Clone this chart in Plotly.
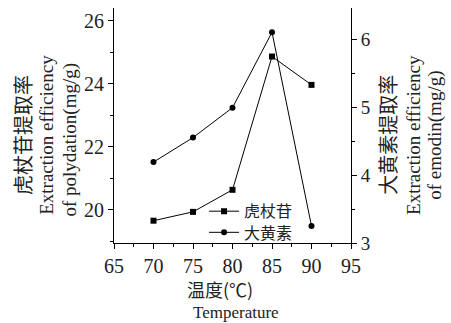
import plotly.graph_objects as go

temperature = [70, 75, 80, 85, 90]
polydatin = [19.66, 19.94, 20.64, 24.87, 23.97]
emodin = [4.19, 4.55, 4.99, 6.10, 3.25]

x_ticks = [65, 70, 75, 80, 85, 90, 95]
y1_ticks = [20, 22, 24, 26]
y2_ticks = [3, 4, 5, 6]

SERIF = "Liberation Serif, Noto Sans CJK SC"
CJK = "Noto Sans CJK SC, Liberation Serif"

fig = go.Figure()
fig.add_trace(go.Scatter(
    x=temperature, y=polydatin, name="虎杖苷", mode="lines+markers",
    line=dict(color="black", width=1),
    marker=dict(symbol="square", size=6, color="black"),
    yaxis="y", legend="legend"))
fig.add_trace(go.Scatter(
    x=temperature, y=emodin, name="大黄素", mode="lines+markers",
    line=dict(color="black", width=1),
    marker=dict(symbol="circle", size=6, color="black"),
    yaxis="y2", legend="legend2"))

axis_common = dict(showgrid=False, zeroline=False, showline=True, linecolor="black",
                   linewidth=1, ticks="outside", ticklen=5, tickcolor="black",
                   tickfont=dict(family=SERIF, size=20, color="#222"))

leg_common = dict(xanchor="left", yanchor="middle", bgcolor="rgba(0,0,0,0)",
                  font=dict(family=CJK, size=16, color="#222"), itemwidth=30,
                  tracegroupgap=0)

fig.update_layout(
    width=451, height=323,
    margin=dict(l=114, r=100, t=8, b=80),
    paper_bgcolor="white", plot_bgcolor="white",
    showlegend=True,
    legend=dict(x=0.38, y=0.135, **leg_common),
    legend2=dict(x=0.38, y=0.045, **leg_common),
    xaxis=dict(range=[65, 95], tickvals=x_ticks, **axis_common,
               minor=dict(ticks="outside", ticklen=3, dtick=2.5, tickcolor="black")),
    yaxis=dict(range=[18.952, 26.41], tickvals=y1_ticks, **axis_common,
               minor=dict(ticks="outside", ticklen=3, dtick=1, tickcolor="black")),
    yaxis2=dict(range=[3, 6.456], tickvals=y2_ticks, overlaying="y", side="right",
                anchor="x", **{**axis_common, "tickfont": dict(family=SERIF, size=19, color="#222")},
                minor=dict(ticks="outside", ticklen=3, dtick=0.5, tickcolor="black")),
)

def ann(text, x, y, size, family, angle=0):
    fig.add_annotation(text=text, x=x, y=y, xref="paper", yref="paper",
                       showarrow=False, textangle=angle, xanchor="center", yanchor="middle",
                       font=dict(family=family, size=size, color="#222"))

# left axis title
ann("虎杖苷提取率", -0.384, 0.46, 20, CJK, -90)
ann("Extraction efficiency", -0.283, 0.46, 19, SERIF, -90)
ann("of polydation(mg/g)", -0.186, 0.44, 19, SERIF, -90)
# right axis title
ann("大黄素提取率", 1.156, 0.46, 20, CJK, -90)
ann("Extraction efficiency", 1.266, 0.46, 19, SERIF, -90)
ann("of emodin(mg/g)", 1.354, 0.46, 19, SERIF, -90)
# x axis title
ann("温度(℃)", 0.447, -0.195, 18, CJK)
ann("Temperature", 0.515, -0.295, 17, SERIF)

fig.write_html("out.html", config={"displayModeBar": False},
               post_script="document.body.style.margin='0';document.body.style.overflow='hidden';")
